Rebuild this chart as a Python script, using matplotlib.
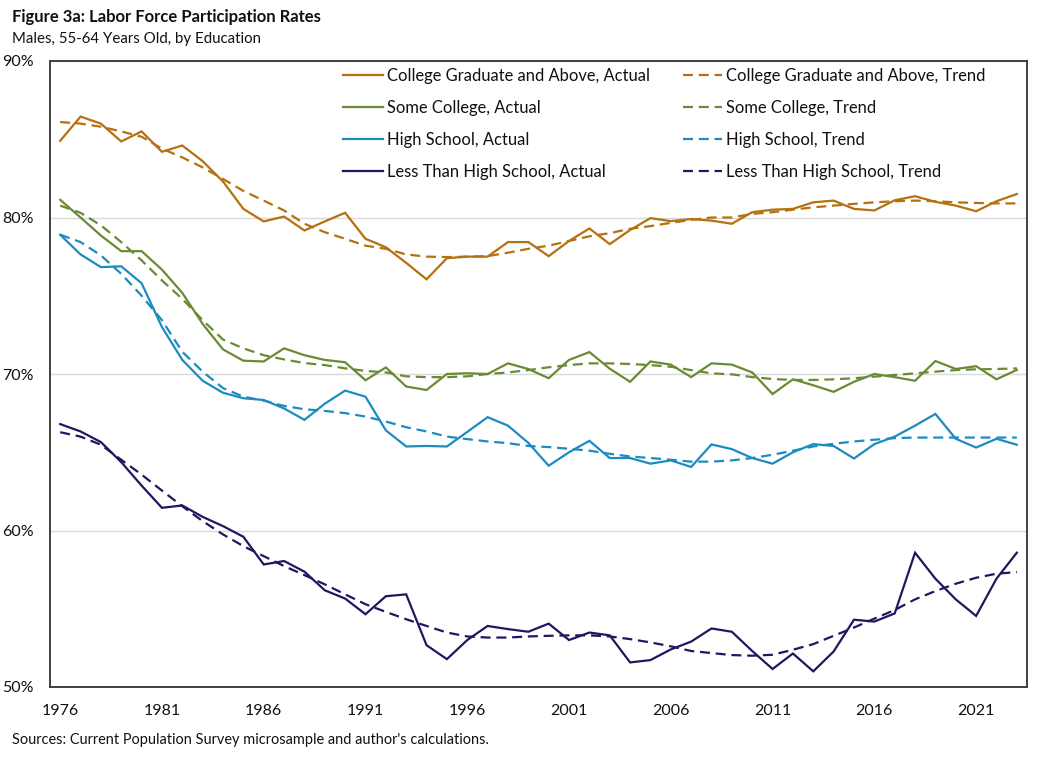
import matplotlib
matplotlib.use("Agg")
import matplotlib.pyplot as plt
from matplotlib.ticker import FixedLocator, FuncFormatter

plt.rcParams['font.family'] = ['Lato', 'DejaVu Sans']

years = list(range(1976, 2024))

college_actual = [84.9, 86.45, 86.0, 84.86, 85.5, 84.2, 84.6, 83.6, 82.3, 80.55,
                  79.75, 80.06, 79.17, 79.75, 80.3, 78.64, 78.1, 77.1, 76.05, 77.4,
                  77.5, 77.5, 78.43, 78.43, 77.53, 78.5, 79.3, 78.3, 79.2, 79.96,
                  79.77, 79.9, 79.8, 79.6, 80.34, 80.5, 80.55, 80.97, 81.08, 80.55,
                  80.45, 81.1, 81.36, 81.0, 80.76, 80.4, 81.04, 81.5]
college_trend = [86.1, 86.0, 85.8, 85.5, 85.16, 84.4, 83.84, 83.2, 82.46, 81.7,
                 81.08, 80.45, 79.6, 79.06, 78.64, 78.2, 78.0, 77.64, 77.5, 77.47,
                 77.5, 77.53, 77.75, 78.0, 78.2, 78.5, 78.8, 79.0, 79.28, 79.45,
                 79.66, 79.85, 80.0, 80.0, 80.23, 80.34, 80.5, 80.65, 80.76, 80.87,
                 80.97, 81.04, 81.08, 81.04, 80.97, 80.93, 80.9, 80.9]

some_actual = [81.13, 80.0, 78.85, 77.85, 77.85, 76.67, 75.18, 73.2, 71.57, 70.85,
               70.8, 71.64, 71.2, 70.9, 70.75, 69.6, 70.42, 69.2, 68.98, 70.0,
               70.05, 70.0, 70.68, 70.32, 69.73, 70.9, 71.4, 70.34, 69.5, 70.8,
               70.6, 69.8, 70.68, 70.6, 70.1, 68.72, 69.66, 69.28, 68.86, 69.5,
               70.0, 69.8, 69.57, 70.83, 70.32, 70.5, 69.66, 70.26]
some_trend = [80.76, 80.3, 79.5, 78.43, 77.26, 75.98, 74.8, 73.44, 72.2, 71.64,
              71.2, 70.93, 70.7, 70.57, 70.36, 70.2, 70.1, 69.85, 69.8, 69.8,
              69.85, 70.0, 70.1, 70.25, 70.43, 70.57, 70.68, 70.68, 70.64, 70.57,
              70.46, 70.25, 70.04, 69.98, 69.8, 69.68, 69.62, 69.62, 69.66, 69.73,
              69.83, 69.94, 70.04, 70.15, 70.25, 70.3, 70.32, 70.36]

hs_actual = [78.9, 77.64, 76.83, 76.88, 75.8, 73.0, 70.9, 69.57, 68.8, 68.45,
             68.34, 67.8, 67.07, 68.1, 68.94, 68.55, 66.4, 65.37, 65.4, 65.37,
             66.3, 67.24, 66.7, 65.6, 64.14, 65.0, 65.73, 64.63, 64.63, 64.27,
             64.48, 64.06, 65.5, 65.2, 64.63, 64.27, 65.0, 65.52, 65.4, 64.6,
             65.52, 66.0, 66.7, 67.45, 65.86, 65.3, 65.86, 65.48]
hs_trend = [78.9, 78.43, 77.58, 76.4, 75.0, 73.44, 71.42, 70.15, 69.1, 68.55,
            68.3, 67.96, 67.75, 67.64, 67.5, 67.28, 66.96, 66.6, 66.33, 66.0,
            65.84, 65.69, 65.58, 65.4, 65.33, 65.22, 65.1, 64.9, 64.73, 64.63,
            64.52, 64.4, 64.4, 64.48, 64.63, 64.84, 65.1, 65.37, 65.54, 65.69,
            65.8, 65.9, 65.94, 65.94, 65.94, 65.94, 65.94, 65.94]

lths_actual = [66.8, 66.33, 65.65, 64.37, 62.87, 61.45, 61.6, 60.87, 60.28, 59.6,
               57.83, 58.05, 57.37, 56.18, 55.65, 54.65, 55.8, 55.92, 52.67, 51.78,
               53.0, 53.9, 53.7, 53.53, 54.05, 53.0, 53.48, 53.3, 51.57, 51.72,
               52.4, 52.9, 53.74, 53.53, 52.3, 51.15, 52.14, 51.0, 52.27, 54.3,
               54.18, 54.7, 58.58, 56.92, 55.6, 54.54, 56.92, 58.58]
lths_trend = [66.28, 66.0, 65.48, 64.52, 63.57, 62.55, 61.55, 60.6, 59.75, 59.0,
              58.36, 57.73, 57.15, 56.56, 55.92, 55.29, 54.8, 54.33, 53.9, 53.48,
              53.23, 53.16, 53.16, 53.23, 53.27, 53.3, 53.3, 53.23, 53.06, 52.85,
              52.6, 52.3, 52.17, 52.04, 52.0, 52.06, 52.38, 52.74, 53.27, 53.8,
              54.37, 54.92, 55.6, 56.13, 56.6, 56.98, 57.24, 57.34]

series_names = ["College Graduate and Above", "Some College", "High School", "Less Than High School"]
actuals = [college_actual, some_actual, hs_actual, lths_actual]
trends = [college_trend, some_trend, hs_trend, lths_trend]
colors = ["#B5700F", "#6B8A36", "#1C8BC0", "#1F1860"]

x_tick_years = [1976, 1981, 1986, 1991, 1996, 2001, 2006, 2011, 2016, 2021]
y_ticks = [50, 60, 70, 80, 90]

title = "Figure 3a: Labor Force Participation Rates"
subtitle = "Males, 55-64 Years Old, by Education"
source = "Sources: Current Population Survey microsample and author's calculations."

fig = plt.figure(figsize=(10.44, 7.58), dpi=100)
ax = fig.add_axes([50/1044, 1 - 687/758, (1027-50)/1044, (687-61)/758])

handles_a, handles_t = [], []
for name, a, t, c in zip(series_names, actuals, trends, colors):
    la, = ax.plot(years, a, color=c, lw=1.6, label=f"{name}, Actual", solid_joinstyle='miter')
    lt, = ax.plot(years, t, color=c, lw=1.6, dashes=(4.5, 2.6), label=f"{name}, Trend")
    handles_a.append(la)
    handles_t.append(lt)

ax.set_xlim(1975.5, 2023.5)
ax.set_ylim(50, 90)
ax.yaxis.set_major_locator(FixedLocator(y_ticks))
ax.yaxis.set_major_formatter(FuncFormatter(lambda v, p: f"{v:.0f}%"))
ax.xaxis.set_major_locator(FixedLocator(x_tick_years))
ax.tick_params(axis='both', length=0, labelsize=11.5, colors='#111111')
ax.tick_params(axis='y', pad=11.5)
ax.tick_params(axis='x', pad=12.5)
ax.grid(axis='y', color='#D9D9D9', lw=1.0)
ax.set_axisbelow(True)
for s in ax.spines.values():
    s.set_color('#404040')
    s.set_linewidth(1.4)

leg = ax.legend(handles_a + handles_t, [h.get_label() for h in handles_a + handles_t],
                ncol=2, loc='upper left', bbox_to_anchor=(343/1044, 1 - 68/758),
                bbox_transform=fig.transFigure, frameon=False, fontsize=11.9,
                handlelength=2.4, handletextpad=0.24, columnspacing=2.0,
                labelspacing=0.96, borderaxespad=0, borderpad=0)
for txt in leg.get_texts():
    txt.set_color('#111111')

fig.text(12/1044, 1 - 17/758, title, fontsize=12.0, fontweight='bold', va='center', ha='left', color='#111111')
fig.text(12/1044, 1 - 39/758, subtitle, fontsize=10.8, va='center', ha='left', color='#111111')
fig.text(12/1044, 1 - 740/758, source, fontsize=10.45, va='center', ha='left', color='#111111')

fig.savefig("out.png", dpi=100)
